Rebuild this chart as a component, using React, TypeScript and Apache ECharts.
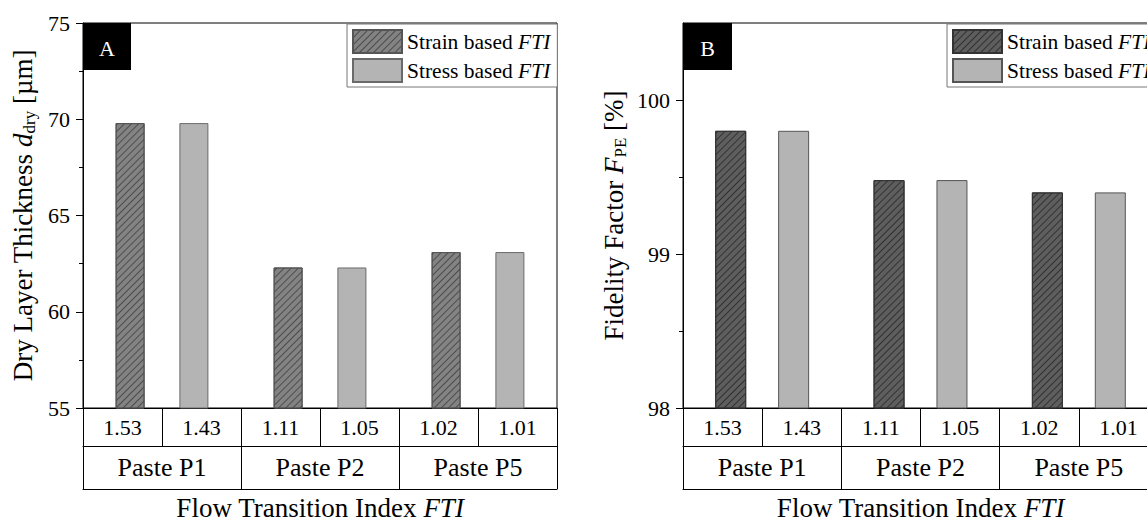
import React, { useEffect, useRef } from "react";
import * as echarts from "echarts";

const FONT = "Liberation Serif";

const pastes = ["Paste P1", "Paste P2", "Paste P5"];
const ftiLabels = ["1.53", "1.43", "1.11", "1.05", "1.02", "1.01"];
const thicknessStrain = [69.8, 62.3, 63.1];
const thicknessStress = [69.8, 62.3, 63.1];
const fidelityStrain = [99.8, 99.48, 99.4];
const fidelityStress = [99.8, 99.48, 99.4];
const leftTicks = [55, 60, 65, 70, 75];
const rightTicks = [98, 99, 100];
const rightMinorTicks = [98.5, 99.5];

const STRAIN = "Strain based FTI";
const STRESS = "Stress based FTI";
const STRAIN_B = "Strain based FTI ";
const STRESS_B = "Stress based FTI ";

const GRIDS = [
  { left: 83, top: 23, width: 474, height: 385 },
  { left: 683, top: 23, width: 475, height: 385 },
];
const ROW1 = 38;
const ROW2 = 43;

const nameRich = {
  n: { fontFamily: FONT, fontSize: 27, color: "#000" },
  i: { fontFamily: FONT, fontSize: 27, fontStyle: "italic", color: "#000" },
  s: { fontFamily: FONT, fontSize: 17, color: "#000", padding: [12, 0, 0, 0] },
};
const titleRich = {
  n: { fontFamily: FONT, fontSize: 27, color: "#000" },
  i: { fontFamily: FONT, fontSize: 27, fontStyle: "italic", color: "#000" },
};

function legendFmt(name: string) {
  const base = name.trim().replace(/FTI$/, "");
  return `{n|${base}}{i|FTI}`;
}

function makeLegend(left: number, names: string[]) {
  return {
    orient: "vertical",
    left,
    top: 24,
    itemWidth: 49,
    itemHeight: 23,
    itemGap: 4,
    padding: [5, 7, 4, 5],
    borderColor: "#777",
    borderWidth: 1,
    backgroundColor: "#fff",
    selectedMode: false,
    icon: "rect",
    data: names,
    formatter: legendFmt,
    textStyle: {
      fontFamily: FONT,
      fontSize: 21.5,
      color: "#000",
      rich: {
        n: { fontFamily: FONT, fontSize: 21.5, color: "#000" },
        i: { fontFamily: FONT, fontSize: 21.5, fontStyle: "italic", color: "#000" },
      },
    },
  };
}

function tableAxes(g: number) {
  return [
    {
      gridIndex: g,
      type: "category",
      data: ftiLabels,
      position: "bottom",
      offset: 0,
      axisLine: { lineStyle: { color: "#000", width: 1 } },
      axisTick: { show: true, alignWithLabel: false, interval: 0, length: ROW1, inside: false, lineStyle: { color: "#000" } },
      axisLabel: { interval: 0, fontFamily: FONT, fontSize: 22, color: "#000", margin: 19.5, verticalAlign: "middle" },
      splitLine: { show: false },
    },
    {
      gridIndex: g,
      type: "category",
      data: pastes,
      position: "bottom",
      offset: ROW1,
      axisLine: { lineStyle: { color: "#000", width: 1 } },
      axisTick: { show: true, alignWithLabel: false, interval: 0, length: ROW2, inside: false, lineStyle: { color: "#000" } },
      axisLabel: { interval: 0, fontFamily: FONT, fontSize: 26, color: "#000", margin: 21.5, verticalAlign: "middle" },
      splitLine: { show: false },
      name: "{n|Flow Transition Index }{i|FTI}",
      nameLocation: "middle",
      nameGap: 62,
      nameTextStyle: { fontFamily: FONT, verticalAlign: "middle", rich: titleRich },
    },
    {
      gridIndex: g,
      type: "category",
      data: pastes,
      position: "bottom",
      offset: ROW1 + ROW2,
      axisLine: { lineStyle: { color: "#000", width: 1 } },
      axisTick: { show: false },
      axisLabel: { show: false },
      splitLine: { show: false },
    },
  ];
}

function hatch(color: string) {
  return {
    symbol: "rect",
    symbolSize: 1,
    dashArrayX: [1, 0],
    dashArrayY: [1, 3.5],
    rotation: -Math.PI / 4,
    color,
  };
}

export default function App() {
  const ref = useRef<HTMLDivElement>(null);
  useEffect(() => {
    if (!ref.current) return;
    const chart = echarts.init(ref.current, null, { renderer: "svg" });
    const option = {
      animation: false,
      backgroundColor: "#fff",
      textStyle: { fontFamily: FONT },
      grid: GRIDS.map((g) => ({
        ...g,
        outerBoundsMode: "none",
        containLabel: false,
        show: true,
        borderColor: "#000",
        borderWidth: 1,
        backgroundColor: "transparent",
      })),
      legend: [makeLegend(347, [STRAIN, STRESS]), makeLegend(947, [STRAIN_B, STRESS_B])],
      xAxis: [...tableAxes(0), ...tableAxes(1)],
      yAxis: [
        {
          gridIndex: 0,
          type: "value",
          min: 55,
          max: 75,
          interval: 5,
          position: "left",
          axisLine: { show: true, lineStyle: { color: "#000" } },
          axisTick: { show: true, length: 7, lineStyle: { color: "#000" }, customValues: leftTicks },
          minorTick: { show: true, splitNumber: 2, length: 4, lineStyle: { color: "#000" } },
          axisLabel: { fontFamily: FONT, fontSize: 22, color: "#000", margin: 13, customValues: leftTicks },
          splitLine: { show: false },
          name: "{n|Dry Layer Thickness }{i|d}{s|dry}{n| [µm]}",
          nameLocation: "middle",
          nameRotate: 90,
          nameGap: 60,
          nameTextStyle: { fontFamily: FONT, verticalAlign: "middle", rich: nameRich },
        },
        {
          gridIndex: 1,
          type: "value",
          min: 98,
          max: 100.5,
          interval: 1,
          position: "left",
          axisLine: { show: true, lineStyle: { color: "#000" } },
          axisTick: { show: true, length: 7, lineStyle: { color: "#000" }, customValues: rightTicks },
          axisLabel: { fontFamily: FONT, fontSize: 22, color: "#000", margin: 13, customValues: rightTicks },
          splitLine: { show: false },
          name: "{n|Fidelity Factor }{i|F}{s|PE}{n| [%]}",
          nameLocation: "middle",
          nameRotate: 90,
          nameGap: 69,
          nameTextStyle: { fontFamily: FONT, verticalAlign: "middle", rich: nameRich },
        },
        {
          gridIndex: 1,
          type: "value",
          min: 98,
          max: 100.5,
          interval: 1,
          position: "left",
          offset: 0,
          axisLine: { show: false },
          axisTick: { show: true, length: 4, lineStyle: { color: "#000" }, customValues: rightMinorTicks },
          axisLabel: { show: false },
          splitLine: { show: false },
        },
      ],
      series: [
        {
          name: STRAIN,
          type: "bar",
          xAxisIndex: 1,
          yAxisIndex: 0,
          data: thicknessStrain,
          barWidth: 29,
          barGap: "120%",
          itemStyle: { color: "#838383", borderColor: "#555", borderWidth: 1, decal: hatch("rgba(30,30,30,0.55)") },
        },
        {
          name: STRESS,
          type: "bar",
          xAxisIndex: 1,
          yAxisIndex: 0,
          data: thicknessStress,
          barWidth: 29,
          barGap: "120%",
          itemStyle: { color: "#b4b4b4", borderColor: "#6a6a6a", borderWidth: 1 },
        },
        {
          name: STRAIN_B,
          type: "bar",
          xAxisIndex: 4,
          yAxisIndex: 1,
          data: fidelityStrain,
          barWidth: 31,
          barGap: "103%",
          itemStyle: { color: "#5e5e5e", borderColor: "#333", borderWidth: 1, decal: hatch("rgba(20,20,20,0.6)") },
        },
        {
          name: STRESS_B,
          type: "bar",
          xAxisIndex: 4,
          yAxisIndex: 1,
          data: fidelityStress,
          barWidth: 31,
          barGap: "103%",
          itemStyle: { color: "#b4b4b4", borderColor: "#555", borderWidth: 1 },
        },
      ],
      graphic: [
        { type: "rect", shape: { x: 83, y: 23, width: 48, height: 47 }, style: { fill: "#000" }, z: 100 },
        { type: "text", x: 107, y: 48, style: { text: "A", fill: "#fff", font: `22px ${FONT}`, align: "center", verticalAlign: "middle" }, z: 101 },
        { type: "rect", shape: { x: 683, y: 23, width: 49, height: 47 }, style: { fill: "#000" }, z: 100 },
        { type: "text", x: 707.5, y: 48, style: { text: "B", fill: "#fff", font: `22px ${FONT}`, align: "center", verticalAlign: "middle" }, z: 101 },
      ],
    };
    chart.setOption(option as any);
    return () => chart.dispose();
  }, []);
  return (
    <div
      ref={ref}
      style={{ position: "fixed", left: 0, top: 0, width: 1147, height: 523, background: "#fff" }}
    />
  );
}
